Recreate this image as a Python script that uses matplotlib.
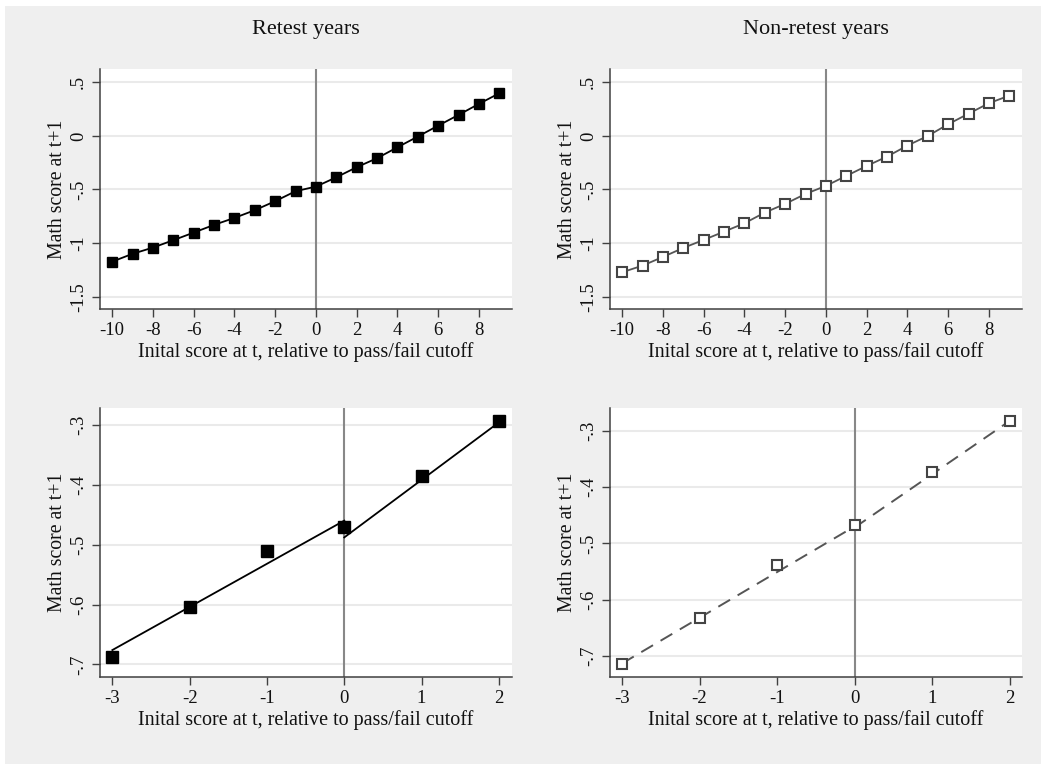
import matplotlib
matplotlib.use("Agg")
import matplotlib.pyplot as plt
from matplotlib.patches import Rectangle

# ---------------- data ----------------
x_top = list(range(-10, 10))
retest_top = [-1.173, -1.100, -1.042, -0.973, -0.902, -0.830, -0.765, -0.693, -0.609, -0.516,
              -0.473, -0.386, -0.292, -0.208, -0.106, -0.006, 0.096, 0.196, 0.299, 0.398]
nonretest_top = [-1.272, -1.210, -1.129, -1.045, -0.970, -0.893, -0.815, -0.715, -0.634, -0.541,
                 -0.466, -0.373, -0.280, -0.193, -0.090, 0.000, 0.109, 0.208, 0.305, 0.376]

x_bot = [-3, -2, -1, 0, 1, 2]
retest_bot = [-0.688, -0.604, -0.510, -0.471, -0.385, -0.293]
nonretest_bot = [-0.714, -0.632, -0.539, -0.467, -0.373, -0.283]

# fitted lines (left / right of cutoff) in bottom panels
fit_left_x = [-3, 0]
fit_right_x = [0, 2]
retest_fit_left = [-0.676, -0.460]
retest_fit_right = [-0.488, -0.296]
nonretest_fit_left = [-0.713, -0.470]
nonretest_fit_right = [-0.472, -0.283]

titles = ["Retest years", "Non-retest years"]
xlabel = "Inital score at t, relative to pass/fail cutoff"
ylabel = "Math score at t+1"

top_xticks = [-10, -8, -6, -4, -2, 0, 2, 4, 6, 8]
top_yticks = [0.5, 0, -0.5, -1, -1.5]
top_yticklabels = [".5", "0", "-.5", "-1", "-1.5"]
bot_xticks = [-3, -2, -1, 0, 1, 2]
bot_yticks = [-0.3, -0.4, -0.5, -0.6, -0.7]
bot_yticklabels = ["-.3", "-.4", "-.5", "-.6", "-.7"]

# ---------------- style ----------------
plt.rcParams['font.family'] = ['Liberation Serif', 'DejaVu Serif']
W, H = 1047, 770
fig = plt.figure(figsize=(W / 100, H / 100), dpi=100, facecolor='white')
bg = Rectangle((5 / W, 6 / H), (1041 - 5) / W, (764 - 6) / H,
               transform=fig.transFigure, facecolor='#EFEFEF',
               edgecolor='none', zorder=-10)
fig.patches.append(bg)

def px_axes(x0, y0, x1, y1):
    ax = fig.add_axes([x0 / W, 1 - y1 / H, (x1 - x0) / W, (y1 - y0) / H])
    ax.set_zorder(5)
    return ax

def style(ax, xticks, yticks, yticklabels, xlim, ylim):
    ax.set_facecolor('white')
    for s in ['top', 'right']:
        ax.spines[s].set_visible(False)
    for s in ['left', 'bottom']:
        ax.spines[s].set_color('#404040')
        ax.spines[s].set_linewidth(1.1)
    ax.set_xlim(*xlim)
    ax.set_ylim(*ylim)
    ax.set_xticks(xticks)
    ax.set_xticklabels([str(t) for t in xticks])
    ax.set_yticks(yticks)
    ax.set_yticklabels(yticklabels, rotation=90, va='center')
    ax.tick_params(direction='out', length=5.5, width=1.0, color='#404040',
                   labelsize=13.5, labelcolor='#111111', pad=4)
    for yv in yticks:
        ax.axhline(yv, color='#EAEAEA', lw=1.5, zorder=0)
    ax.axvline(0, color='#888888', lw=1.5, zorder=1)
    ax.set_xlabel(xlabel, fontsize=14.5, color='#111111', labelpad=2)
    ax.set_ylabel(ylabel, fontsize=14.2, color='#111111', labelpad=2)

top_xlim = (-10.6, 9.62)
top_ylim = (-1.615, 0.624)

ax1 = px_axes(100, 69, 512, 309)
style(ax1, top_xticks, top_yticks, top_yticklabels, top_xlim, top_ylim)
ax1.plot(x_top, retest_top, color='black', lw=1.3, zorder=2)
ax1.plot(x_top, retest_top, ls='none', marker='s', ms=7.5, color='black', zorder=3)
ax1.set_title(titles[0], fontsize=16, pad=25, color='#111111')

ax2 = px_axes(610, 69, 1022, 309)
style(ax2, top_xticks, top_yticks, top_yticklabels, top_xlim, top_ylim)
ax2.plot(x_top, nonretest_top, color='#555555', lw=1.3, zorder=2)
ax2.plot(x_top, nonretest_top, ls='none', marker='s', ms=7.5, mfc='white',
         mec='#444444', mew=1.5, zorder=3)
ax2.set_title(titles[1], fontsize=16, pad=25, color='#111111')

ax3 = px_axes(100, 408, 512, 677)
style(ax3, bot_xticks, bot_yticks, bot_yticklabels, (-3.16, 2.17), (-0.721, -0.272))
ax3.plot(fit_left_x, retest_fit_left, color='black', lw=1.3, zorder=2)
ax3.plot(fit_right_x, retest_fit_right, color='black', lw=1.3, zorder=2)
ax3.plot(x_bot, retest_bot, ls='none', marker='s', ms=8.5, color='black', zorder=3)

ax4 = px_axes(610, 408, 1022, 677)
style(ax4, bot_xticks, bot_yticks, bot_yticklabels, (-3.155, 2.16), (-0.737, -0.260))
ax4.plot(fit_left_x, nonretest_fit_left, color='#555555', lw=1.4, ls=(0, (7, 4.5)), zorder=2)
ax4.plot(fit_right_x, nonretest_fit_right, color='#555555', lw=1.4, ls=(0, (7, 4.5)), zorder=2)
ax4.plot(x_bot, nonretest_bot, ls='none', marker='s', ms=7, mfc='white',
         mec='#444444', mew=1.5, zorder=3)

fig.savefig('out.png', dpi=100, facecolor='white')
